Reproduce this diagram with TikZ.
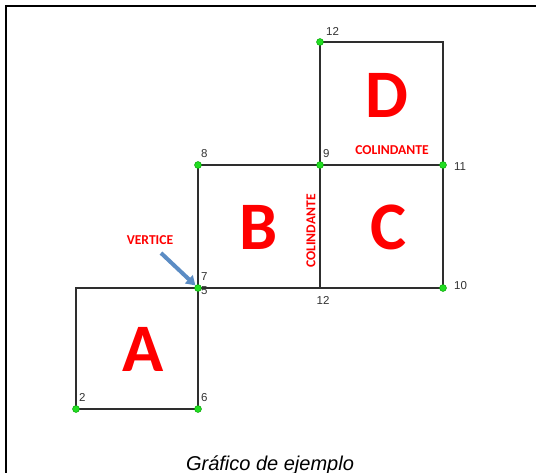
\documentclass[tikz,border=0pt]{standalone}
\usepackage{fontspec}
\setmainfont{Liberation Sans}
\newfontfamily\calib{Carlito}
\usetikzlibrary{arrows.meta}
\definecolor{edge}{HTML}{2E2E2E}
\definecolor{dotgreen}{HTML}{22DD22}
\definecolor{arrowblue}{HTML}{5B8CC4}
\definecolor{numgray}{HTML}{333333}
\tikzset{
  edgeline/.style={draw=edge, line width=1.6pt},
  vdot/.style={circle, fill=dotgreen, draw=green!60!black, line width=0.4pt, inner sep=0pt, minimum size=7pt},
  bigletter/.style={text=red, font=\calib\bfseries\fontsize{68}{68}\selectfont},
  redlabel/.style={text=red, font=\calib\bfseries\fontsize{13.6}{14}\selectfont},
  numlabel/.style={text=numgray, font=\fontsize{11.5}{12}\selectfont, inner sep=0pt},
}
\begin{document}
\begin{tikzpicture}[x=1pt,y=-1pt]
\useasboundingbox (0,0) rectangle (536,472);
\clip (0,0) rectangle (536,472);
\fill[white] (0,0) rectangle (536,472);
% frame
\draw[line width=1.6pt, black] (6,480) -- (6,6) -- (545,6);
% vertex coordinates
\coordinate (p2) at (76,409);
\coordinate (p6) at (198,409);
\coordinate (p5) at (198,288);
\coordinate (pa) at (76,288);
\coordinate (p8) at (198,165);
\coordinate (p9) at (320,165);
\coordinate (p11) at (443,165);
\coordinate (p10) at (443,288);
\coordinate (p12b) at (320,288);
\coordinate (p12) at (320,42);
\coordinate (pd) at (443,42);
% squares
\draw[edgeline] (p2) -- (p6) -- (p5) -- (pa) -- cycle;
\draw[edgeline] (p5) -- (p8) -- (p9) -- (p12b) -- cycle;
\draw[edgeline] (p12b) -- (p9) -- (p11) -- (p10) -- cycle;
\draw[edgeline] (p9) -- (p12) -- (pd) -- (p11);
% dots
\foreach \p in {p2,p6,p5,p8,p9,p11,p10,p12} \node[vdot] (d\p) at (\p) {};
% number labels
\node[numlabel, anchor=south west] (l2) at (79,402) {2};
\node[numlabel, anchor=south west] (l6) at (201,402) {6};
\node[numlabel, anchor=south west] (l7) at (201,281) {7};
\node[numlabel, anchor=north west] (l5) at (201,286) {5};
\node[numlabel, anchor=south west] (l8) at (201,158) {8};
\node[numlabel, anchor=south west] (l9) at (323,158) {9};
\node[numlabel, anchor=west] (l11) at (454,167) {11};
\node[numlabel, anchor=west] (l10) at (454,286) {10};
\node[numlabel, anchor=north] (l12b) at (323,296) {12};
\node[numlabel, anchor=south west] (l12) at (326,36) {12};
% big letters
\node[bigletter] (A) at (143,349) {A};
\node[bigletter] (B) at (259,227) {B};
\node[bigletter] (C) at (388,227) {C};
\node[bigletter] (D) at (387,95) {D};
% red labels
\node[redlabel] (vert) at (150,240) {VERTICE};
\node[redlabel, rotate=90] (col1) at (311,231) {COLINDANTE};
\node[redlabel] (col2) at (392,150) {COLINDANTE};
% blue arrow
\draw[arrowblue, line width=4pt, -{Triangle[length=9pt,width=11pt]}] (161,253) -- (dp5.north west);
% caption
\node[font=\itshape\fontsize{20}{21}\selectfont, anchor=base, text=black] (cap) at (270,470) {Gráfico de ejemplo};
\end{tikzpicture}
\end{document}
